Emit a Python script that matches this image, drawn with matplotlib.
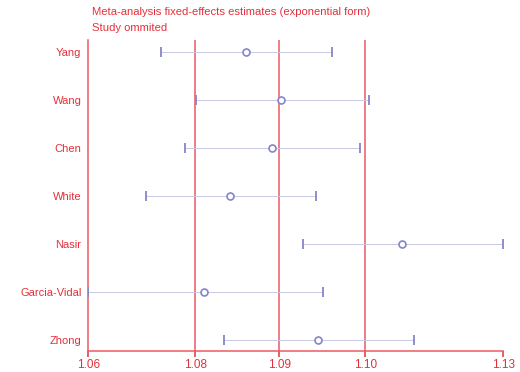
import matplotlib
matplotlib.use('Agg')
import matplotlib.pyplot as plt
from matplotlib.ticker import FixedLocator, NullLocator, FixedFormatter

# Daten
studies = ['Yang', 'Wang', 'Chen', 'White', 'Nasir', 'Garcia-Vidal', 'Zhong']
estimate = [1.0858, 1.0912, 1.0898, 1.0834, 1.1100, 1.0795, 1.0969]
ci_lower = [1.0729, 1.0782, 1.0766, 1.0706, 1.0947, 1.0620, 1.0825]
ci_upper = [1.0991, 1.1048, 1.1034, 1.0967, 1.1260, 1.0977, 1.1119]
overall = [1.0781, 1.0910, 1.1043]  # unteres KI, Schaetzer, oberes KI

red = '#e4303a'
line_red = '#ec5a60'
blue = '#8585cc'
ci_col = '#c9c9e2'

plt.rcParams['font.family'] = ['Liberation Sans', 'DejaVu Sans']

fig = plt.figure(figsize=(5.2, 3.72), dpi=100)
ax = fig.add_axes([0.170, 0.0565, 0.798, 0.8355])

rows = list(range(1, len(studies) + 1))

# Gesamtschaetzer als senkrechte Linien
for v in overall:
    ax.axvline(v, color=line_red, lw=1.1, zorder=1)

# Konfidenzintervalle
ax.hlines(rows, ci_lower, ci_upper, color=ci_col, lw=0.7, zorder=2)
ax.plot(ci_lower, rows, '|', color=blue, markersize=7, mew=1.3, zorder=3)
ax.plot(ci_upper, rows, '|', color=blue, markersize=7, mew=1.3, zorder=3)
ax.plot(estimate, rows, 'o', mfc='white', mec=blue, markersize=5, mew=1.2, zorder=4)

ax.set_xscale('log')
ax.set_xlim(min(ci_lower), max(ci_upper))
ax.set_ylim(7.23, 0.75)

ticks = [min(ci_lower)] + overall + [max(ci_upper)]
ax.xaxis.set_major_locator(FixedLocator(ticks))
ax.xaxis.set_major_formatter(FixedFormatter([f'{t:.2f}' for t in ticks]))
ax.xaxis.set_minor_locator(NullLocator())
ax.tick_params(axis='x', colors=red, labelcolor=red, labelsize=8.5, length=4, width=1.1, pad=1.5)

ax.set_yticks(rows)
ax.set_yticklabels(studies)
ax.tick_params(axis='y', length=0, labelcolor=red, labelsize=8, pad=5)

for s in ['top', 'right']:
    ax.spines[s].set_visible(False)
for s in ['left', 'bottom']:
    ax.spines[s].set_color(line_red)
    ax.spines[s].set_linewidth(1.1)

fig.text(0.177, 0.967, 'Meta-analysis fixed-effects estimates (exponential form)',
         color=red, fontsize=8.1, va='center', ha='left')
fig.text(0.177, 0.925, 'Study ommited', color=red, fontsize=8.1, va='center', ha='left')

fig.savefig('out.png', dpi=100, facecolor='white')
